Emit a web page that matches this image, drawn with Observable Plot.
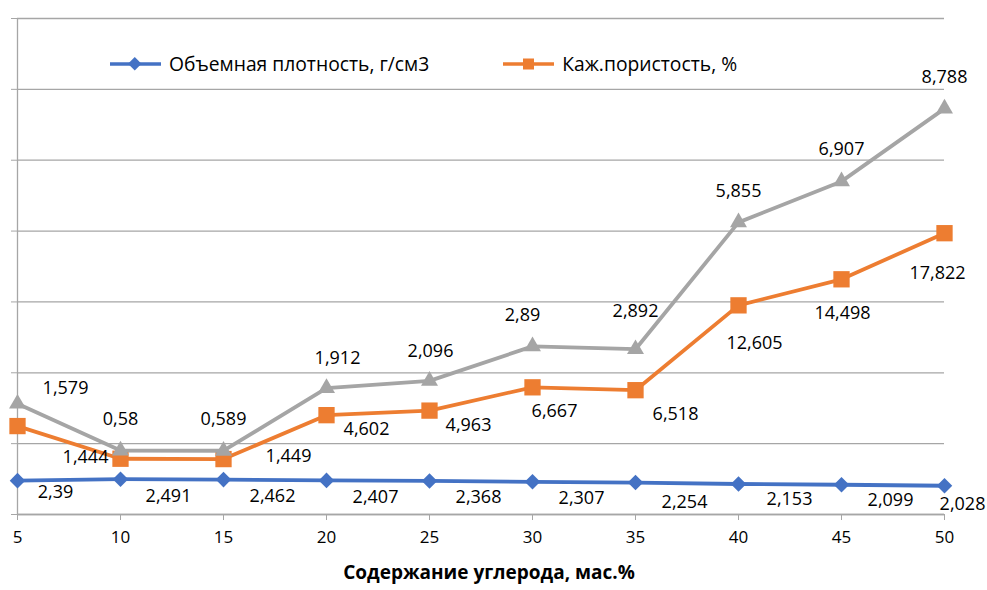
<!DOCTYPE html>
<html>
<head>
<meta charset="utf-8">
<script src="https://cdn.jsdelivr.net/npm/d3@7"></script>
<script src="https://cdn.jsdelivr.net/npm/@observablehq/plot@0.6"></script>
<style>
  html, body { margin: 0; padding: 0; background: #fff; }
  #wrap { position: relative; width: 987px; height: 590px; font-family: "Open Sans", sans-serif; }
  #legend { position: absolute; top: 50px; left: 108px; display: flex; align-items: center; font-size: 19.3px; color: #000; }
  .item { display: flex; align-items: center; }
  .item svg { margin-right: 6px; }
</style>
</head>
<body>
<div id="wrap">
  <div id="chart"></div>
  <div id="legend"></div>
</div>
<script>
// Carbon content, wt.%
const carbon = [5, 10, 15, 20, 25, 30, 35, 40, 45, 50];
// Series values (stacked in the chart)
const density = [2.39, 2.491, 2.462, 2.407, 2.368, 2.307, 2.254, 2.153, 2.099, 2.028];
const porosity = [3.85, 1.444, 1.449, 4.602, 4.963, 6.667, 6.518, 12.605, 14.498, 17.822];
const waterAbs = [1.579, 0.58, 0.589, 1.912, 2.096, 2.89, 2.892, 5.855, 6.907, 8.788];
const seriesNames = ["Объемная плотность, г/см3", "Каж.пористость, %"];
const xTitle = "Содержание углерода, мас.%";
const yTicks = [0, 5, 10, 15, 20, 25, 30, 35];

const colors = ["#4472C4", "#ED7D31", "#A5A5A5"];

const rows = carbon.map((x, i) => {
  const y1 = density[i];
  const y2 = y1 + porosity[i];
  const y3 = y2 + waterAbs[i];
  return { x, b: density[i], o: porosity[i], g: waterAbs[i], y1, y2, y3 };
});

const fmt = v => String(v).replace(".", ",");

// label offsets (dx, dy) per point, mimicking the reference layout
const offB = [[38,12],[48,17],[49,17],[49,17],[49,16],[49,16],[49,20],[51,15],[49,15],[18,18]];
const offO = [null,[-35,-2],[65,-3],[40,14],[39,15],[22,24],[40,24],[16,38],[1,34],[-7,40]];
const offG = [[48,-15],[0,-31],[0,-31],[11,-30],[1,-30],[-10,-31],[0,-38],[0,-31],[0,-32],[0,-31]];

function labels(yKey, vKey, offs) {
  return rows.flatMap((r, i) => offs[i] == null ? [] : [
    Plot.text([r], { x: "x", y: yKey, text: d => fmt(d[vKey]), dx: offs[i][0], dy: offs[i][1], fontSize: 18, fill: "#000" })
  ]);
}

const gridColor = "#a6a6a6";

const chart = Plot.plot({
  width: 987,
  height: 590,
  marginLeft: 17,
  marginRight: 43,
  marginTop: 18,
  marginBottom: 76,
  style: { fontFamily: "Open Sans, sans-serif", fontSize: "17px", color: "#000", background: "#fff" },
  x: { domain: [5, 50] },
  y: { domain: [0, 35] },
  marks: [
    Plot.gridY({ ticks: yTicks, stroke: gridColor, strokeOpacity: 1, strokeWidth: 1.3 }),
    Plot.axisY({ ticks: yTicks, tickSize: 6, tickFormat: () => "", stroke: gridColor, label: null }),
    Plot.ruleX([5], { stroke: gridColor, strokeWidth: 1.3 }),
    Plot.ruleY([0], { stroke: gridColor, strokeWidth: 1.3 }),
    Plot.axisX({ ticks: carbon, tickSize: 6, tickPadding: 10, stroke: gridColor, tickFormat: d => String(d), label: null, fontSize: 17 }),
    Plot.line(rows, { x: "x", y: "y1", stroke: colors[0], strokeWidth: 3.8 }),
    Plot.dot(rows, { x: "x", y: "y1", symbol: "diamond2", r: 7, fill: colors[0], stroke: "none" }),
    Plot.line(rows, { x: "x", y: "y2", stroke: colors[1], strokeWidth: 3.8 }),
    Plot.dot(rows, { x: "x", y: "y2", symbol: "square", r: 9.2, fill: colors[1], stroke: "none" }),
    Plot.line(rows, { x: "x", y: "y3", stroke: colors[2], strokeWidth: 3.8 }),
    Plot.dot(rows, { x: "x", y: "y3", symbol: "triangle", r: 6.3, fill: colors[2], stroke: "none" }),
    ...labels("y1", "b", offB),
    ...labels("y2", "o", offO),
    ...labels("y3", "g", offG),
    Plot.text([xTitle], { frameAnchor: "bottom", dy: 64, dx: 8, fontWeight: "bold", fontSize: 19, fill: "#000" })
  ]
});
document.getElementById("chart").appendChild(chart);

// Legend
const legend = document.getElementById("legend");
const markers = [
  '<rect x="22" y="5" width="9.5" height="9.5" transform="rotate(45 26.75 9.75)" fill="' + colors[0] + '"/>',
  '<rect x="22" y="4.5" width="11" height="11" fill="' + colors[1] + '"/>'
];
const gaps = [0, 72];
seriesNames.forEach((name, i) => {
  const item = document.createElement("div");
  item.className = "item";
  item.style.marginLeft = gaps[i] + "px";
  item.innerHTML = '<svg width="55" height="20"><line x1="2" y1="10" x2="53" y2="10" stroke="' + colors[i] + '" stroke-width="3.5"/>' + markers[i] + '</svg><span>' + name + '</span>';
  legend.appendChild(item);
});
</script>
</body>
</html>
